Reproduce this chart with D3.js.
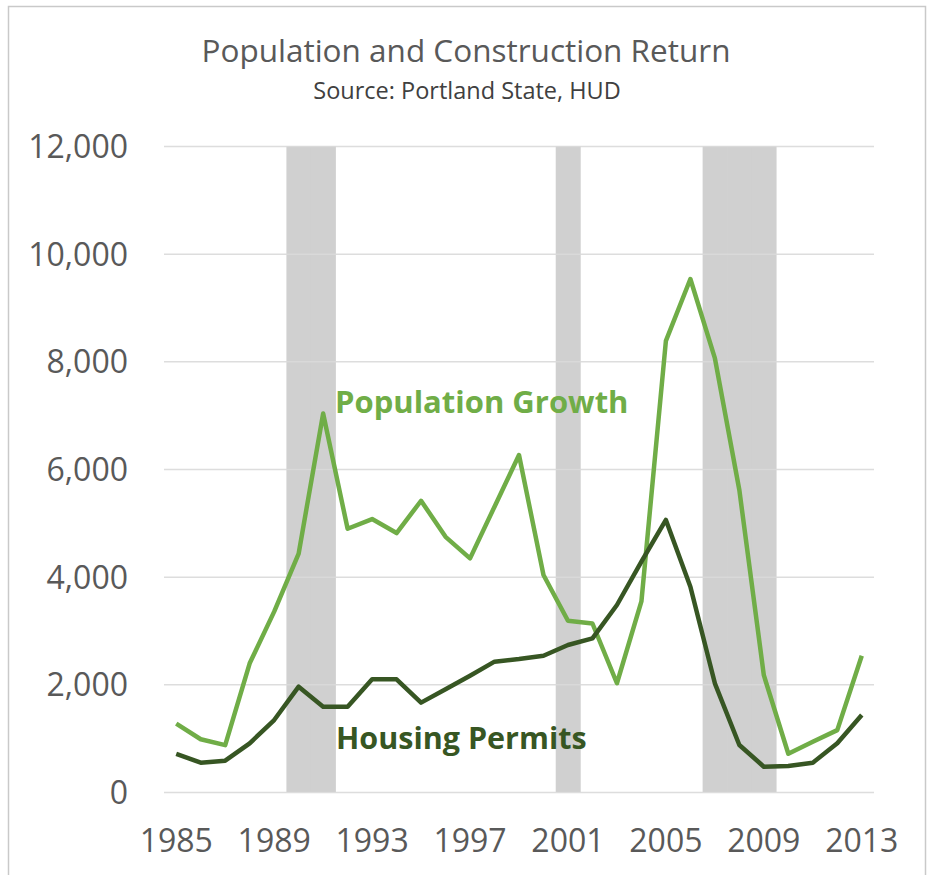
<!DOCTYPE html>
<html>
<head>
<meta charset="utf-8">
<script src="https://cdn.jsdelivr.net/npm/d3@7"></script>
<style>
  body { margin: 0; background: #fff; }
  svg { display: block; font-family: "Open Sans", sans-serif; }
</style>
</head>
<body>
<div id="grafico"></div>
<script>
// Dados
const anos = d3.range(1985, 2014);
const crescimentoPopulacao = [1270, 980, 870, 2390, 3350, 4430, 7030, 4890, 5070, 4810, 5410, 4740, 4340,
    5300, 6260, 4030, 3180, 3130, 2020, 3540, 8380, 9530, 8060, 5610, 2170, 710, 935, 1150, 2530];
const licencasHabitacao = [706, 545, 582, 904, 1337, 1957, 1585, 1585, 2093, 2093, 1660, 1908, 2161,
    2421, 2471, 2532, 2731, 2855, 3474, 4279, 5053, 3814, 2019, 873, 470, 483, 545, 904, 1430];
const anosRecessao = [1990, 1991, 2001, 2007, 2008, 2009];
const ticksY = [0, 2000, 4000, 6000, 8000, 10000, 12000];
const ticksX = [1985, 1989, 1993, 1997, 2001, 2005, 2009, 2013];

const width = 931;
const height = 875;
const margem = { top: 146, right: 57, bottom: 83, left: 164 };

const svg = d3.select("#grafico")
    .append("svg")
    .attr("width", width)
    .attr("height", height);

// Moldura da área do gráfico
svg.append("rect")
    .attr("x", 8.5).attr("y", 6.5)
    .attr("width", 917).attr("height", 880)
    .attr("fill", "none")
    .attr("stroke", "#c9c9c9")
    .attr("stroke-width", 1.5);

const x = d3.scaleBand()
    .domain(anos)
    .range([margem.left, width - margem.right])
    .paddingInner(0).paddingOuter(0);

const y = d3.scaleLinear()
    .domain([0, 12000])
    .range([height - margem.bottom, margem.top]);

const centro = d => x(d) + x.bandwidth() / 2;

// Faixas de recessão
svg.selectAll(".recessao")
    .data(anosRecessao)
    .enter()
    .append("rect")
    .attr("class", "recessao")
    .attr("x", d => x(d))
    .attr("y", y(12000))
    .attr("width", x.bandwidth() + 0.5)
    .attr("height", y(0) - y(12000))
    .attr("fill", "#d0d0d0");

// Linhas de grade
svg.append("g")
    .attr("transform", `translate(${margem.left},0)`)
    .call(d3.axisLeft(y).tickValues(ticksY).tickSize(-(width - margem.left - margem.right)).tickFormat(""))
    .call(g => g.select(".domain").remove())
    .call(g => g.selectAll("line").attr("stroke", "#d9d9d9").attr("stroke-width", 1.5).attr("stroke-opacity", 0.9));

// Eixo Y
svg.append("g")
    .attr("transform", `translate(128,0)`)
    .call(d3.axisLeft(y).tickValues(ticksY).tickSize(0).tickPadding(0).tickFormat(d3.format(",")))
    .call(g => g.select(".domain").remove())
    .call(g => g.selectAll("text")
        .attr("fill", "#595959")
        .attr("font-family", "Open Sans")
        .attr("font-size", 32)
        .attr("dy", "0.36em"));

// Eixo X
svg.append("g")
    .attr("transform", `translate(0,${y(0)})`)
    .call(d3.axisBottom(x).tickValues(ticksX).tickSize(0).tickPadding(0))
    .call(g => g.select(".domain").remove())
    .call(g => g.selectAll("text")
        .attr("fill", "#595959")
        .attr("font-family", "Open Sans")
        .attr("font-size", 32)
        .attr("dy", 0)
        .attr("y", 60));

// Linhas das séries
const linha = d3.line()
    .x((d, i) => centro(anos[i]))
    .y(d => y(d));

svg.append("path")
    .datum(crescimentoPopulacao)
    .attr("fill", "none")
    .attr("stroke", "#70ad47")
    .attr("stroke-width", 4.5)
    .attr("stroke-linejoin", "round")
    .attr("d", linha);

svg.append("path")
    .datum(licencasHabitacao)
    .attr("fill", "none")
    .attr("stroke", "#375623")
    .attr("stroke-width", 4.5)
    .attr("stroke-linejoin", "round")
    .attr("d", linha);

// Rótulos das séries
svg.append("text")
    .attr("x", 335).attr("y", 413)
    .attr("fill", "#70ad47")
    .attr("font-weight", "bold")
    .attr("font-size", 31)
    .text("Population Growth");

svg.append("text")
    .attr("x", 336).attr("y", 749)
    .attr("fill", "#375623")
    .attr("font-weight", "bold")
    .attr("font-size", 30.5)
    .text("Housing Permits");

// Títulos
svg.append("text")
    .attr("x", 466).attr("y", 62)
    .attr("text-anchor", "middle")
    .attr("fill", "#595959")
    .attr("font-size", 31.5)
    .text("Population and Construction Return");

svg.append("text")
    .attr("x", 467).attr("y", 99)
    .attr("text-anchor", "middle")
    .attr("fill", "#404040")
    .attr("font-size", 23.5)
    .text("Source: Portland State, HUD");
</script>
</body>
</html>
